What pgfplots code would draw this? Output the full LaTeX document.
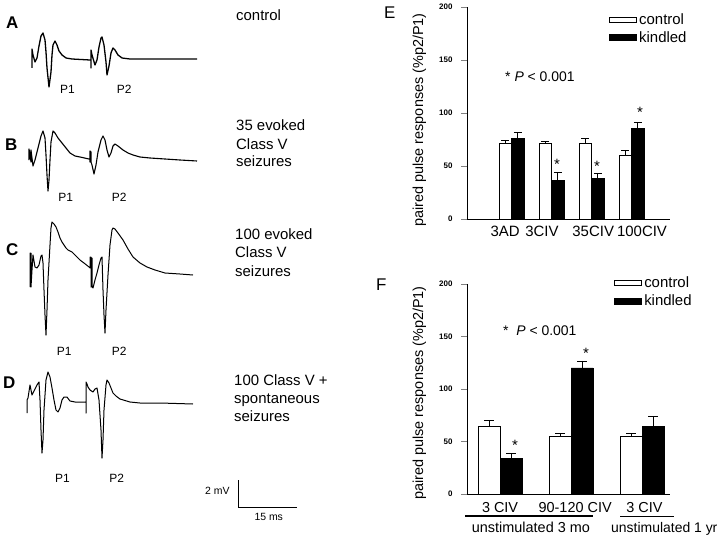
\documentclass[border=0pt]{standalone}
\usepackage{fontspec}
\setmainfont{Liberation Sans}
\usepackage{pgfplots}
\pgfplotsset{compat=1.18}
\newcommand\fs[1]{\fontsize{#1}{#1}\selectfont}
\begin{document}
\begin{tikzpicture}
\useasboundingbox (0,0) rectangle (720bp,537bp);
% ---------------- canvas for traces (pixel coordinates) ----------------
\begin{axis}[at={(0,0)}, anchor=south west, width=720bp, height=537bp, scale only axis,
  xmin=0, xmax=720, ymin=0, ymax=537, y dir=reverse, hide axis, clip=false]
% A control
\addplot[black, line width=1.3bp, line join=round] coordinates {
(32,68)(32,49)(33,55)(35,62)(37,58)(39,46)(41,36)(43,33)(45,40)(46,52)(47,68)(49,87)(51,72)(52,55)(53,45)(55,41)(57,45)(59,51)(62,55)(66,58)(72,59)(90,60)
(91,60)(91,68)(91,50)(92,55)(95,65)(97,60)(99,47)(101,38)(102,37)(104,45)(106,62)(107,75)(109,66)(111,53)(113,48)(115,50)(118,55)(122,58)(130,59)(160,59)(197,59)};
% B
\addplot[black, line width=1.1bp, line join=round] coordinates {
(29,160)(29,149)(30,155)(31,162)(31,150)(32,158)(33,166)(35,160)(38,148)(41,136)(43,131)(45,138)(46,155)(47,175)(48,191)(49,180)(50,160)(51,142)(53,131)(55,133)(58,138)(62,143)(66,148)(70,153)(75,156)(80,157)(89,159)
(90,159)(90,162)(90,151)(91,152)(91,162)(92,165)(94,174)(96,165)(98,152)(101,140)(103,136)(105,140)(107,150)(109,157)(111,153)(113,146)(115,144)(118,146)(123,150)(128,153)(133,155)(140,157)(150,158)(165,159)(180,160)(197,161)};
% C
\addplot[black, line width=1bp, line join=round] coordinates {
(30,287)(30,253)(31,253)(31,287)(32,270)(33,255)(35,267)(37,268)(39,265)(41,256)(42,255)(43,263)(44,290)(45,315)(46,335)(47,310)(48,280)(50,245)(51,228)(52,222)(54,224)(56,227)(58,232)(60,238)(62,242)(64,245)(66,248)(68,250)(70,251)(72,252)(74,254)(77,257)(80,260)(84,263)(89,267)
(90,268)(90,257)(91,257)(91,287)(92,258)(92,287)(93,288)(95,280)(97,273)(99,265)(101,258)(102,257)(103,290)(104,315)(105,333)(106,310)(108,275)(110,245)(112,230)(113,228)(115,229)(118,233)(123,240)(128,249)(133,257)(140,263)(147,267)(155,270)(165,273)(180,274)(193,275)};
% D
\addplot[black, line width=1bp, line join=round] coordinates {
(27,413)(27,400)(28,398)(30,385)(31,390)(32,395)(34,391)(37,385)(39,382)(40,400)(41,430)(42,453)(43,440)(44,410)(46,380)(48,372)(50,377)(52,388)(54,400)(56,410)(58,412)(60,408)(62,400)(64,397)(67,397)(70,401)(75,402)(85,402)
(86,402)(86,413)(86,382)(87,384)(88,387)(90,390)(93,392)(95,389)(97,388)(99,400)(101,430)(102,458)(103,440)(104,410)(106,385)(107,380)(109,383)(111,388)(113,393)(116,396)(120,399)(130,402)(140,403)(160,403)(193,404)};
% scale bar
\addplot[black, line width=0.7bp] coordinates {(238,480)(238,507)(297,507)};
% underlines for F
\addplot[black, line width=2.5bp] coordinates {(465,516)(593,516)};
\addplot[black, line width=0.8bp] coordinates {(620,516)(674,516)};
% panel letters
\node[anchor=base west, inner sep=0, font=\fs{17}\bfseries] at (axis cs:6,28.3) {A};
\node[anchor=base west, inner sep=0, font=\fs{17}\bfseries] at (axis cs:5,150) {B};
\node[anchor=base west, inner sep=0, font=\fs{17}\bfseries] at (axis cs:6,255) {C};
\node[anchor=base west, inner sep=0, font=\fs{17}\bfseries] at (axis cs:3,388.3) {D};
\node[anchor=base west, inner sep=0, font=\fs{17}] at (axis cs:384,18.3) {E};
\node[anchor=base west, inner sep=0, font=\fs{17}] at (axis cs:376,290) {F};
% P labels
\node[anchor=base west, inner sep=0, font=\fs{12}] at (axis cs:60,93.3) {P1};
\node[anchor=base west, inner sep=0, font=\fs{12}] at (axis cs:116.7,93.3) {P2};
\node[anchor=base west, inner sep=0, font=\fs{12}] at (axis cs:58.3,201.7) {P1};
\node[anchor=base west, inner sep=0, font=\fs{12}] at (axis cs:111.7,201.7) {P2};
\node[anchor=base west, inner sep=0, font=\fs{12}] at (axis cs:56.7,355) {P1};
\node[anchor=base west, inner sep=0, font=\fs{12}] at (axis cs:111.7,355) {P2};
\node[anchor=base west, inner sep=0, font=\fs{12}] at (axis cs:55,482.7) {P1};
\node[anchor=base west, inner sep=0, font=\fs{12}] at (axis cs:109.3,482.7) {P2};
% condition texts
\node[anchor=base west, inner sep=0, font=\fs{15}] at (axis cs:236,20.7) {control};
\node[anchor=base west, inner sep=0, font=\fs{15}] at (axis cs:236,130.7) {35 evoked};
\node[anchor=base west, inner sep=0, font=\fs{15}] at (axis cs:236,149) {Class V};
\node[anchor=base west, inner sep=0, font=\fs{15}] at (axis cs:236,166.7) {seizures};
\node[anchor=base west, inner sep=0, font=\fs{15}] at (axis cs:235,239.3) {100 evoked};
\node[anchor=base west, inner sep=0, font=\fs{15}] at (axis cs:235,257.7) {Class V};
\node[anchor=base west, inner sep=0, font=\fs{15}] at (axis cs:235,276) {seizures};
\node[anchor=base west, inner sep=0, font=\fs{15}] at (axis cs:234,385.7) {100 Class V +};
\node[anchor=base west, inner sep=0, font=\fs{15}] at (axis cs:234,403.7) {spontaneous};
\node[anchor=base west, inner sep=0, font=\fs{15}] at (axis cs:234,421.7) {seizures};
\node[anchor=base west, inner sep=0, font=\fs{10.5}] at (axis cs:205,494.3) {2 mV};
\node[anchor=base west, inner sep=0, font=\fs{10.5}] at (axis cs:254.3,520.7) {15 ms};
% y labels
\node[rotate=90, inner sep=0, font=\fs{14.5}] at (axis cs:419.5,120) {paired pulse responses (\%p2/P1)};
\node[rotate=90, inner sep=0, font=\fs{14.5}] at (axis cs:419.5,393) {paired pulse responses (\%p2/P1)};
% P notes
\node[anchor=base west, inner sep=0, font=\fs{14}] at (axis cs:505,81.7) {*\ \textit{P} {<} 0.001};
\node[anchor=base west, inner sep=0, font=\fs{14}] at (axis cs:503,335.7) {*\ \ \textit{P} {<} 0.001};
% stars
\node[anchor=base, inner sep=0, font=\fs{15}] at (axis cs:557,169.5) {*};
\node[anchor=base, inner sep=0, font=\fs{15}] at (axis cs:597,171.5) {*};
\node[anchor=base, inner sep=0, font=\fs{15}] at (axis cs:640,117.5) {*};
\node[anchor=base, inner sep=0, font=\fs{15}] at (axis cs:515,450.5) {*};
\node[anchor=base, inner sep=0, font=\fs{15}] at (axis cs:586,358.5) {*};
% group labels F
\node[anchor=base west, inner sep=0, font=\fs{14.5}] at (axis cs:471.7,532.3) {unstimulated 3 mo};
\node[anchor=base west, inner sep=0, font=\fs{14}] at (axis cs:611,532.3) {unstimulated 1 yr};
\end{axis}
% ---------------- panel E ----------------
\begin{axis}[at={(467bp,318bp)}, anchor=south west, width=203bp, height=212bp, scale only axis,
  xmin=-1.115, xmax=3.96, ymin=0, ymax=200,
  axis lines=left, axis line style={-, line width=0.9bp},
  ytick={0,50,100,150,200}, tick align=outside, major tick length=6bp,
  ytick style={line width=0.8bp},
  /pgf/number format/assume math mode=true,
  yticklabel style={font=\fs{8}\bfseries, xshift=-5bp},
  xtick={-0.16,0.76,2.04,3.26}, xticklabels={3AD,3CIV,35CIV,100CIV},
  xtick style={draw=none},
  xticklabel style={font=\fs{15}, anchor=base, yshift=-12bp},
  legend style={at={(rel axis cs:0.70,0.979)}, anchor=north west, draw=none, fill=none,
     font=\fs{15}, row sep=1.5bp, inner sep=0pt},
  legend cell align=left,
  clip=false]
\addplot[ybar, bar width=12.5bp, bar shift=0bp, fill=white, draw=black, line width=0.9bp,
  legend image code/.code={\draw[fill=white, draw=black, line width=0.9bp] (0bp,-2.5bp) rectangle (27bp,2.5bp);},
  error bars/.cd, y dir=plus, y explicit, error bar style={line width=0.9bp},
  error mark options={rotate=90, mark size=4bp, line width=0.9bp}]
  coordinates {(-0.156,71) +- (0,3) (0.844,71) +- (0,2.5) (1.844,71) +- (0,5) (2.844,60) +- (0,5)};
\addlegendentry{control}
\addplot[ybar, bar width=12.5bp, bar shift=0bp, fill=black, draw=black, line width=0.9bp,
  legend image code/.code={\draw[fill=black, draw=black] (0bp,-3bp) rectangle (27bp,3bp);},
  error bars/.cd, y dir=plus, y explicit, error bar style={line width=0.9bp},
  error mark options={rotate=90, mark size=4bp, line width=0.9bp}]
  coordinates {(0.156,76) +- (0,6) (1.156,36) +- (0,8) (2.156,38.4) +- (0,4.7) (3.156,85.4) +- (0,6)};
\addlegendentry{kindled}
\end{axis}
% ---------------- panel F ----------------
\begin{axis}[at={(467bp,43bp)}, anchor=south west, width=203bp, height=210bp, scale only axis,
  xmin=-0.465, xmax=2.39, ymin=0, ymax=200,
  axis lines=left, axis line style={-, line width=0.9bp},
  ytick={0,50,100,150,200}, tick align=outside, major tick length=6bp,
  ytick style={line width=0.8bp},
  /pgf/number format/assume math mode=true,
  yticklabel style={font=\fs{8}\bfseries, xshift=-5bp},
  xtick={0,1.056,2.03}, xticklabels={3 CIV,90-120 CIV,3 CIV},
  xtick style={draw=none},
  xticklabel style={font=\fs{14.5}, anchor=base, yshift=-12bp},
  legend style={at={(rel axis cs:0.725,1.043)}, anchor=north west, draw=none, fill=none,
     font=\fs{15}, row sep=1.5bp, inner sep=0pt},
  legend cell align=left,
  clip=false]
\addplot[ybar, bar width=22bp, bar shift=0bp, fill=white, draw=black, line width=0.9bp,
  legend image code/.code={\draw[fill=white, draw=black, line width=0.9bp] (0bp,-2.5bp) rectangle (27bp,2.5bp);},
  error bars/.cd, y dir=plus, y explicit, error bar style={line width=0.9bp},
  error mark options={rotate=90, mark size=5bp, line width=0.9bp}]
  coordinates {(-0.155,64.8) +- (0,5) (0.845,55.2) +- (0,2.9) (1.845,54.6) +- (0,2.9)};
\addlegendentry{control}
\addplot[ybar, bar width=22bp, bar shift=0bp, fill=black, draw=black, line width=0.9bp,
  legend image code/.code={\draw[fill=black, draw=black] (0bp,-3bp) rectangle (27bp,3bp);},
  error bars/.cd, y dir=plus, y explicit, error bar style={line width=0.9bp},
  error mark options={rotate=90, mark size=5bp, line width=0.9bp}]
  coordinates {(0.155,33.7) +- (0,4.7) (1.155,120) +- (0,6.7) (2.155,64.1) +- (0,9.6)};
\addlegendentry{kindled}
\end{axis}
\end{tikzpicture}
\end{document}
